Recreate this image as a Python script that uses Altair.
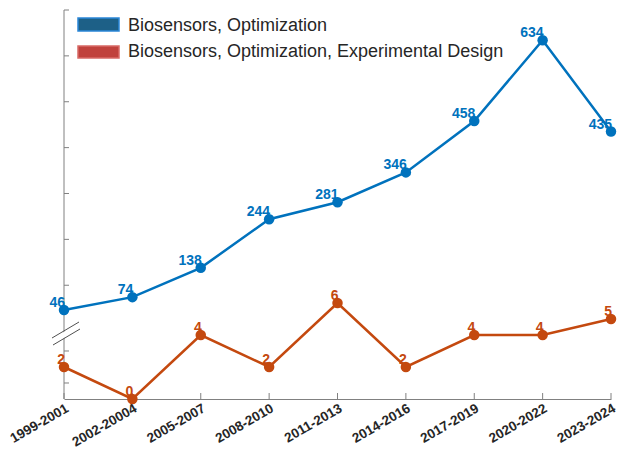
import altair as alt
import pandas as pd

# ---- data ----
periods = ["1999-2001", "2002-20004", "2005-2007", "2008-2010", "2011-2013",
           "2014-2016", "2017-2019", "2020-2022", "2023-2024"]
opt_counts = [46, 74, 138, 244, 281, 346, 458, 634, 435]
doe_counts = [2, 0, 4, 2, 6, 2, 4, 4, 5]
blue_ticks = [100, 200, 300, 400, 500, 600, 700]
red_ticks = [1, 3]
legend_labels = ["Biosensors, Optimization",
                 "Biosensors, Optimization, Experimental Design"]

W, H = 547, 389
BLUE = "#0072BD"
RED = "#C4490F"
GRAY = "#808080"
FONT = "Liberation Sans"

df = pd.DataFrame({"period": periods, "opt": opt_counts, "doe": doe_counts})
one = pd.DataFrame({"a": [0]})

x_enc = alt.X(
    "period:N", sort=periods,
    scale=alt.Scale(type="point", padding=0),
    axis=alt.Axis(title=None, labelAngle=-30, labelAlign="right",
                  labelBaseline="middle", labelPadding=8, labelOffset=3,
                  labelFont=FONT, labelFontSize=13.5, labelFontWeight="bold",
                  labelColor="#262626", ticks=False, domainColor=GRAY,
                  domainWidth=1, grid=False, labelOverlap=False),
)

bs = alt.Scale(domain=[-148, 700], nice=False, zero=False)
rs = alt.Scale(domain=[0, 24.31], nice=False, zero=False)

# ---- blue series (upper part) ----
base_b = alt.Chart(df).encode(x=x_enc, y=alt.Y("opt:Q", scale=bs, axis=None))
line_b = base_b.mark_line(color=BLUE, strokeWidth=2.5)
pts_b = base_b.mark_point(filled=True, color=BLUE, size=110, opacity=1)
txt_b = base_b.mark_text(color=BLUE, align="right", baseline="alphabetic",
                         dx=1, dy=-3, font=FONT, fontSize=14,
                         fontWeight="bold").encode(text="opt:Q")
yt_b = alt.Chart(pd.DataFrame({"v": blue_ticks})).mark_rule(
    color=GRAY, strokeWidth=1).encode(
    y=alt.Y("v:Q", scale=bs, axis=None), x=alt.value(0), x2=alt.value(5))
blue_layer = alt.layer(yt_b, line_b, pts_b, txt_b)

# ---- red series (lower part) ----
base_r = alt.Chart(df).encode(x=x_enc, y=alt.Y("doe:Q", scale=rs, axis=None))
line_r = base_r.mark_line(color=RED, strokeWidth=2.5)
pts_r = base_r.mark_point(filled=True, color=RED, size=110, opacity=1)
txt_r = base_r.mark_text(color=RED, align="right", baseline="alphabetic",
                         dx=1, dy=-3, font=FONT, fontSize=14,
                         fontWeight="bold").encode(text="doe:Q")
yt_r = alt.Chart(pd.DataFrame({"v": red_ticks})).mark_rule(
    color=GRAY, strokeWidth=1).encode(
    y=alt.Y("v:Q", scale=rs, axis=None), x=alt.value(0), x2=alt.value(5))
red_layer = alt.layer(yt_r, line_r, pts_r, txt_r)

# ---- axis decorations ----
xticks = alt.Chart(df).mark_rule(color=GRAY, strokeWidth=1).encode(
    x=x_enc, y=alt.value(H - 6), y2=alt.value(H))
yline = alt.Chart(one).mark_rule(color=GRAY, strokeWidth=1).encode(
    x=alt.value(0), y=alt.value(0), y2=alt.value(H))
brk_white = alt.Chart(one).mark_rule(color="white", strokeWidth=5).encode(
    x=alt.value(-11), x2=alt.value(16), y=alt.value(331.5), y2=alt.value(315.5))
brk1 = alt.Chart(one).mark_rule(color="#505050", strokeWidth=1).encode(
    x=alt.value(-12), x2=alt.value(15), y=alt.value(328), y2=alt.value(312))
brk2 = alt.Chart(one).mark_rule(color="#505050", strokeWidth=1).encode(
    x=alt.value(-11), x2=alt.value(16), y=alt.value(335), y2=alt.value(319))
decor = alt.layer(xticks, yline, brk_white, brk1, brk2)

# ---- legend ----
leg_b_rect = alt.Chart(one).mark_rect(fill="#1d6087", stroke="#2a86d8",
                                      strokeWidth=1.5).encode(
    x=alt.value(14), x2=alt.value(55), y=alt.value(8), y2=alt.value(21))
leg_r_rect = alt.Chart(one).mark_rect(fill="#c0423d", stroke="#d86a66",
                                      strokeWidth=1.5).encode(
    x=alt.value(14), x2=alt.value(55), y=alt.value(36), y2=alt.value(48))
leg_b_txt = alt.Chart(one).mark_text(
    text=legend_labels[0], align="left", baseline="alphabetic", font=FONT,
    fontSize=18, color="#262626").encode(x=alt.value(64), y=alt.value(21))
leg_r_txt = alt.Chart(one).mark_text(
    text=legend_labels[1], align="left", baseline="alphabetic", font=FONT,
    fontSize=18, color="#262626").encode(x=alt.value(64), y=alt.value(47))
legend = alt.layer(leg_b_rect, leg_r_rect, leg_b_txt, leg_r_txt)

chart = alt.layer(decor, red_layer, blue_layer, legend).resolve_scale(
    y="independent"
).properties(
    width=W, height=H,
    autosize=alt.AutoSizeParams(type="none"),
    padding={"left": 56, "top": 2, "right": 8, "bottom": 51},
).configure_view(stroke=None)

chart.save("out.html", embed_options={"renderer": "svg", "actions": False})
